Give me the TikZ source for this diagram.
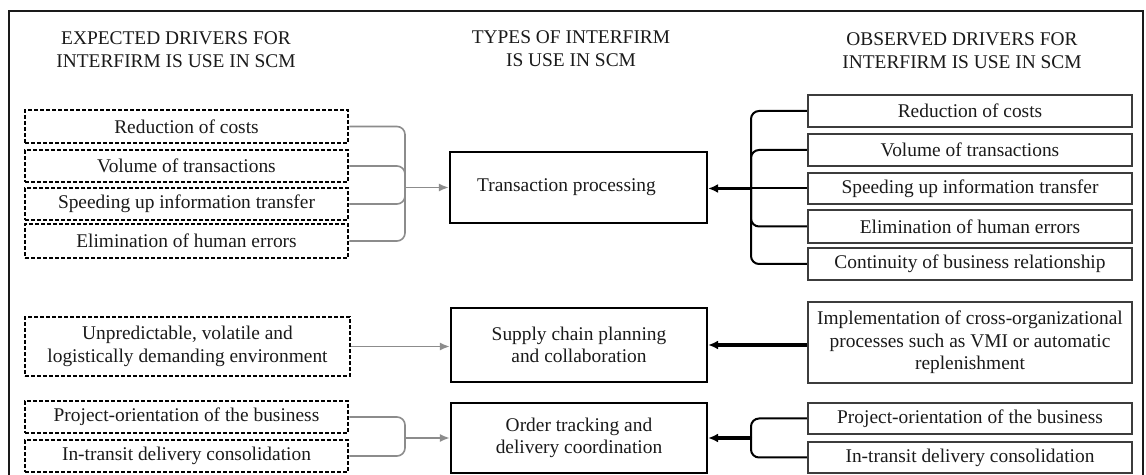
\documentclass[tikz,border=0pt]{standalone}
\usepackage{fontspec}
\setmainfont{Liberation Serif}
\usetikzlibrary{arrows.meta}
\definecolor{inkc}{HTML}{1A1A1A}
\definecolor{linkgray}{HTML}{8C8C8C}
\definecolor{boxgray}{HTML}{3C3C3C}
\tikzset{
  txt/.style={font=\fontsize{9.7pt}{11.2pt}\selectfont, text=inkc, align=center, inner sep=0pt},
  head/.style={txt, font=\fontsize{9.7pt}{11.6pt}\selectfont},
  expbox/.style={txt, draw=black, line width=1.4pt, dash pattern=on 2pt off 1pt, minimum width=161.5pt},
  typebox/.style={txt, draw=black, line width=1.1pt, minimum width=128pt},
  obsbox/.style={txt, draw=boxgray, line width=1.2pt, minimum width=162pt},
  graylink/.style={draw=linkgray, line width=0.8pt, rounded corners=4pt},
  grayarrow/.style={draw=linkgray, line width=0.9pt, -{Latex[length=5pt,width=4pt]}},
  blacklink/.style={draw=black, line width=1pt, rounded corners=4pt},
  blackarrow/.style={draw=black, line width=1.6pt, -{Latex[length=5pt,width=4.5pt]}},
}
\begin{document}
\begin{tikzpicture}[x=0.5pt,y=-0.5pt]
\useasboundingbox (0,0) rectangle (1146,475);
\fill[white] (0,0) rectangle (1146,475);
% outer frame (open at the bottom edge)
\draw[line width=1pt, inkc] (9,480) -- (9,11) -- (1143,11) -- (1143,480);

% column headings
\node[head] (h1) at (176,49.5) {EXPECTED DRIVERS FOR\\INTERFIRM IS USE IN SCM};
\node[head] (h2) at (571,49) {TYPES OF INTERFIRM\\IS USE IN SCM};
\node[head] (h3) at (962,51) {OBSERVED DRIVERS FOR\\INTERFIRM IS USE IN SCM};

% expected drivers
\node[expbox, minimum height=16.5pt] (e1) at (186.5,126.5) {Reduction of costs};
\node[expbox, minimum height=16pt] (e2) at (186.5,166) {Volume of transactions};
\node[expbox, minimum height=16pt] (e3) at (186.5,204) {Speeding up information transfer};
\node[expbox, minimum height=17pt] (e4) at (186.5,241) {Elimination of human errors};
\node[expbox, minimum width=162.5pt, minimum height=29.5pt] (e5) at (187.5,346.5)
  {Unpredictable, volatile and\\logistically demanding environment};
\node[expbox, minimum height=16pt] (e6) at (186.5,417) {Project-orientation of the business};
\node[expbox, minimum height=16pt] (e7) at (186.5,456) {In-transit delivery consolidation};

% types of interfirm IS use
\node[typebox, minimum width=128.5pt, minimum height=35.5pt] (t1) at (578.5,187.5)
  {Transaction processing\hspace*{12pt}};
\node[typebox, minimum height=37pt] (t2) at (579,345) {Supply chain planning\\and collaboration};
\node[typebox, minimum height=35pt] (t3) at (579,438) {Order tracking and\\delivery coordination};

% observed drivers
\node[obsbox, minimum height=16pt] (o1) at (970,111) {Reduction of costs};
\node[obsbox, minimum height=16pt] (o2) at (970,150) {Volume of transactions};
\node[obsbox, minimum height=15.5pt] (o3) at (970,188.5) {Speeding up information transfer};
\node[obsbox, minimum height=16.5pt] (o4) at (970,226.5) {Elimination of human errors};
\node[obsbox, minimum height=16pt] (o5) at (970,264) {Continuity of business relationship};
\node[obsbox, minimum height=40.5pt] (o6) at (970,342.5)
  {Implementation of cross-organizational\\processes such as VMI or automatic\\replenishment};
\node[obsbox, minimum height=15.5pt] (o7) at (970,418.5) {Project-orientation of the business};
\node[obsbox, minimum height=15.5pt] (o8) at (970,457.5) {In-transit delivery consolidation};

% junction points of the brackets
\coordinate (ja) at (405,187.5);
\coordinate (jb) at (405,438);
\coordinate (jc) at (751,188.5);
\coordinate (jd) at (751,438);

% expected drivers -> types
\draw[graylink] (e1.east) -| (ja);
\draw[graylink] (e2.east) -| (ja);
\draw[graylink] (e3.east) -| (ja);
\draw[graylink] (e4.east) -| (ja);
\draw[grayarrow] (ja) -- (ja -| t1.west);
\draw[grayarrow] (e5.east) -- (e5.east -| t2.west);
\draw[graylink] (e6.east) -| (jb);
\draw[graylink] (e7.east) -| (jb);
\draw[grayarrow] (jb) -- (jb -| t3.west);

% observed drivers -> types
\draw[blacklink] (o1.west) -| (jc);
\draw[blacklink] (o2.west) -| (jc);
\draw[blacklink] (o3.west) -- (jc);
\draw[blacklink] (o4.west) -| (jc);
\draw[blacklink] (o5.west) -| (jc);
\draw[blackarrow] (jc) -- (jc -| t1.east);
\draw[blackarrow] (o6.west |- t2.east) -- (t2.east);
\draw[blacklink] (o7.west) -| (jd);
\draw[blacklink] (o8.west) -| (jd);
\draw[blackarrow] (jd) -- (jd -| t3.east);
\end{tikzpicture}
\end{document}
